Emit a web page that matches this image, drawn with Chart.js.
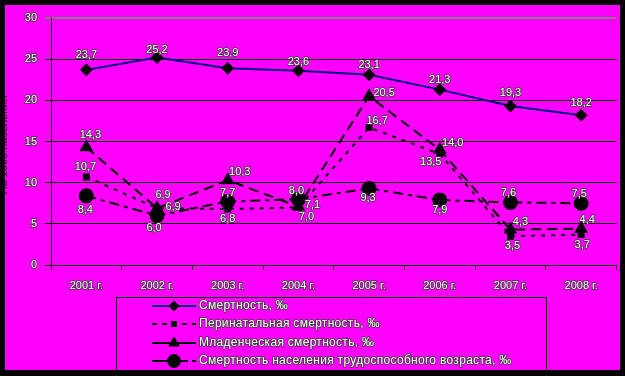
<!DOCTYPE html>
<html>
<head>
<meta charset="utf-8">
<script src="https://cdn.jsdelivr.net/npm/chart.js@4.4.0/dist/chart.umd.min.js"></script>
<style>
  html, body { margin: 0; padding: 0; background: #000; }
  #wrap { width: 625px; height: 376px; position: relative; }
</style>
</head>
<body>
<div id="wrap"><canvas id="chart" width="625" height="376"></canvas></div>
<script>
// Категории и значения (‰)
const years = ['2001 г.', '2002 г.', '2003 г.', '2004 г.', '2005 г.', '2006 г.', '2007 г.', '2008 г.'];
const mortality = [23.7, 25.2, 23.9, 23.6, 23.1, 21.3, 19.3, 18.2];
const perinatal = [10.7, 6.9, 6.8, 7.0, 16.7, 13.5, 3.5, 3.7];
const infant = [14.3, 6.9, 10.3, 7.1, 20.5, 14.0, 4.3, 4.4];
const workingAge = [8.4, 6.0, 7.7, 8.0, 9.3, 7.9, 7.6, 7.5];
const yTicks = [0, 5, 10, 15, 20, 25, 30];

// смещения подписей значений (стиль, не данные)
const labelOffsets = [
  [[0, -15], [0, -8], [0, -15], [0, -9], [0, -10], [0, -10], [0, -13], [0, -12]],
  [[-1, -10], [16, -1], [0, 10], [8, 10], [8, -7], [-9, 8], [2, 10], [1, 10]],
  [[4, -12], [6, -13], [12, -8], [14, -2], [15, -3], [13, -7], [10, -8], [6, -9]],
  [[-1, 14], [-3, 12], [0, -9], [-2, -8], [-1, 10], [0, 10], [-2, -9], [-2, -9]]
];

const FONT = '11px "Liberation Sans", Arial, sans-serif';
const LEGEND_FONT = '12px "Liberation Sans", Arial, sans-serif';

function outlinedText(ctx, text, x, y, font, spacing) {
  ctx.save();
  ctx.font = font || FONT;
  if (spacing) ctx.letterSpacing = spacing;
  ctx.lineJoin = 'round';
  ctx.strokeStyle = '#3a3a3a';
  ctx.lineWidth = 1.6;
  ctx.strokeText(text, x, y);
  ctx.fillStyle = '#ffffff';
  ctx.fillText(text, x, y);
  ctx.restore();
}

// фон: чёрная рамка и розовое поле
const backgroundPlugin = {
  id: 'bg',
  beforeDraw(chart) {
    const ctx = chart.ctx;
    ctx.save();
    ctx.fillStyle = '#000000';
    ctx.fillRect(0, 0, 625, 376);
    ctx.fillStyle = '#ff00ff';
    ctx.fillRect(5, 5, 615, 365);
    // подпись оси Y (обрезана рамкой)
    ctx.translate(4, 145);
    ctx.rotate(-Math.PI / 2);
    ctx.font = FONT;
    ctx.fillStyle = '#000000';
    ctx.textAlign = 'center';
    ctx.textBaseline = 'middle';
    ctx.fillText('На 1000 населения', 0, 0);
    ctx.restore();
  }
};

// подписи значений у точек
const valueLabels = {
  id: 'valueLabels',
  afterDatasetsDraw(chart) {
    const ctx = chart.ctx;
    ctx.save();
    ctx.textAlign = 'center';
    ctx.textBaseline = 'middle';
    chart.data.datasets.forEach((ds, di) => {
      const meta = chart.getDatasetMeta(di);
      meta.data.forEach((pt, i) => {
        const off = labelOffsets[di][i];
        const txt = ds.data[i].toFixed(1).replace('.', ',');
        outlinedText(ctx, txt, pt.x + off[0], pt.y + off[1]);
      });
    });
    ctx.restore();
  }
};

// легенда в рамке под графиком
const boxLegend = {
  id: 'boxLegend',
  afterDraw(chart) {
    const ctx = chart.ctx;
    ctx.save();
    ctx.strokeStyle = '#000000';
    ctx.lineWidth = 1;
    ctx.strokeRect(116.5, 297.5, 430, 80);
    const rows = [306, 324, 343, 361];
    chart.data.datasets.forEach((ds, di) => {
      const y = rows[di];
      ctx.save();
      ctx.strokeStyle = ds.borderColor;
      ctx.lineWidth = 2;
      ctx.setLineDash(ds.legendDash || []);
      ctx.beginPath();
      ctx.moveTo(152, y);
      ctx.lineTo(196, y);
      ctx.stroke();
      ctx.restore();
      Chart.helpers.drawPoint(ctx, {
        pointStyle: ds.pointStyle,
        radius: ds.pointRadius,
        borderWidth: 1
      }, 174, y);
      ctx.textAlign = 'left';
      ctx.textBaseline = 'middle';
      outlinedText(ctx, ds.label, 199, y, LEGEND_FONT, '0.3px');
    });
    ctx.restore();
  }
};

const common = { pointBackgroundColor: '#000000', pointBorderColor: '#000000', borderWidth: 2, fill: false, tension: 0 };

new Chart(document.getElementById('chart'), {
  type: 'line',
  data: {
    labels: years,
    datasets: [
      Object.assign({}, common, {
        label: 'Смертность, ‰', data: mortality,
        borderColor: '#000080', pointStyle: 'rectRot', pointRadius: 5
      }),
      Object.assign({}, common, {
        label: 'Перинатальная смертность, ‰', data: perinatal,
        borderColor: '#000000', borderDash: [4, 6], legendDash: [5, 5],
        pointStyle: 'rect', pointRadius: 3.5
      }),
      Object.assign({}, common, {
        label: 'Младенческая смертность, ‰', data: infant,
        borderColor: '#000000', borderDash: [10, 6], legendDash: [],
        pointStyle: 'triangle', pointRadius: 6
      }),
      Object.assign({}, common, {
        label: 'Смертность населения трудоспособного возраста, ‰', data: workingAge,
        borderColor: '#000000', borderDash: [10, 5, 4, 5], legendDash: [16, 12, 8, 4],
        pointStyle: 'circle', pointRadius: 6.5
      })
    ]
  },
  options: {
    responsive: false,
    animation: false,
    devicePixelRatio: 1,
    layout: { padding: { top: 18, left: 0, right: 6, bottom: 0 } },
    plugins: { legend: { display: false }, tooltip: { enabled: false } },
    scales: {
      x: {
        offset: true,
        afterFit(s) { s.height = 111; },
        grid: { offset: true, drawOnChartArea: false, drawTicks: true, tickLength: 5, color: '#000000' },
        border: { color: '#000000', width: 1 },
        ticks: {
          color: '#ffffff', textStrokeColor: '#3a3a3a', textStrokeWidth: 1.6,
          font: { family: '"Liberation Sans", Arial, sans-serif', size: 11 },
          padding: 9, maxRotation: 0
        }
      },
      y: {
        min: 0, max: 30,
        afterFit(s) { s.width = 51; },
        afterBuildTicks(s) { s.ticks = yTicks.map(v => ({ value: v })); },
        grid: {
          color: ctx => (ctx.tick && ctx.tick.value === 30 ? '#808080' : '#000000'),
          lineWidth: ctx => (ctx.tick && ctx.tick.value === 30 ? 2 : 1),
          tickLength: 6, drawTicks: true
        },
        border: { color: '#000000', width: 1 },
        ticks: {
          color: '#ffffff', textStrokeColor: '#3a3a3a', textStrokeWidth: 1.6,
          font: { family: '"Liberation Sans", Arial, sans-serif', size: 11 },
          padding: 8
        }
      }
    }
  },
  plugins: [backgroundPlugin, valueLabels, boxLegend]
});
</script>
</body>
</html>
